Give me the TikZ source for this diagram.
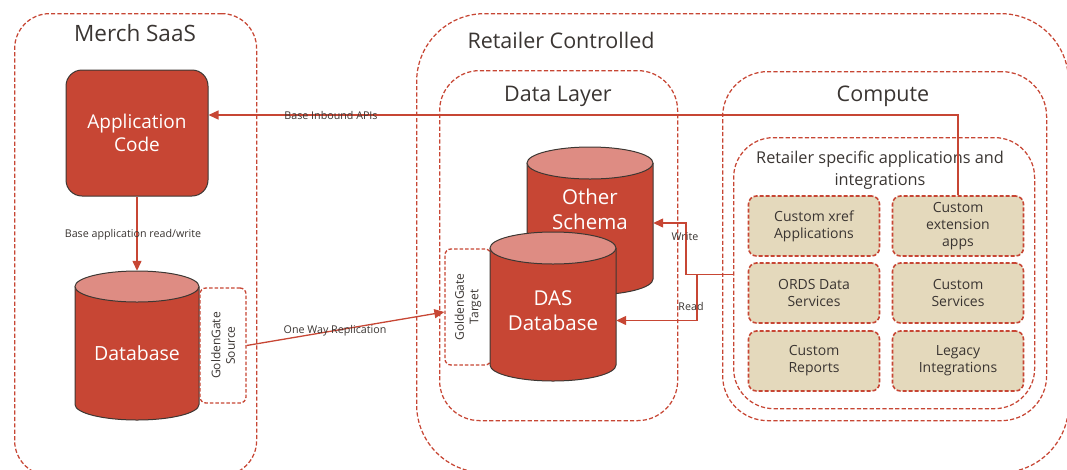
\documentclass[tikz,border=0pt]{standalone}
\usepackage{fontspec}
\setmainfont{Open Sans}
\usetikzlibrary{arrows.meta}
\definecolor{ored}{HTML}{C74634}
\definecolor{opink}{HTML}{DE8C83}
\definecolor{otan}{HTML}{E4D9BC}
\definecolor{otxt}{HTML}{3A3532}
\definecolor{oline}{HTML}{3D3733}
\newcommand{\mycyl}[5]{% x1 top x2 bottom ry
  \pgfmathsetmacro{\cx}{(#1+#3)/2}\pgfmathsetmacro{\rx}{(#3-#1)/2}
  \fill[ored] (#1,-#2-#5) -- (#1,-#4+#5) arc[start angle=180,end angle=360,x radius=\rx,y radius=#5] -- (#3,-#2-#5) -- cycle;
  \draw[oline,line width=1pt] (#1,-#2-#5) -- (#1,-#4+#5) arc[start angle=180,end angle=360,x radius=\rx,y radius=#5] -- (#3,-#2-#5);
  \draw[oline,line width=1pt,fill=opink] (\cx,-#2-#5) ellipse[x radius=\rx,y radius=#5];
}
\tikzset{
  grp/.style={draw=ored,dash pattern=on 4.2pt off 2.2pt,line width=1.25pt,inner sep=0pt,anchor=north west},
  tanbox/.style={draw=ored,fill=otan,dash pattern=on 4pt off 2pt,line width=1.6pt,rounded corners=8pt,minimum width=131pt,minimum height=60pt,inner sep=0pt,align=center,font=\fontsize{14}{17}\selectfont,text=otxt},
  ggbox/.style={draw=ored,fill=white,dash pattern=on 3.5pt off 2pt,line width=1.3pt,rounded corners=6pt,minimum width=46pt,inner sep=0pt},
  ggtext/.style={rotate=90,align=center,font=\fontsize{12}{14.5}\selectfont,text=otxt},
  title/.style={font=\fontsize{21.5}{25}\selectfont,text=otxt},
  lbl/.style={font=\fontsize{10.7}{12}\selectfont,text=otxt,inner sep=1pt},
  wtxt/.style={text=white,align=center},
  conn/.style={draw=ored,line width=1.3pt,-{Triangle[length=10pt,width=9pt]}},
  cylbox/.style={inner sep=0pt}
}
\begin{document}
\begin{tikzpicture}[x=1pt,y=1pt]
\useasboundingbox (0,0) rectangle (1067,-469);
% group boxes
\node[grp,rounded corners=35pt,minimum width=242pt,minimum height=462pt] (merch) at (14,-13) {};
\node[grp,rounded corners=68pt,minimum width=652pt,minimum height=459pt] (retail) at (416,-13) {};
\node[grp,rounded corners=40pt,minimum width=238pt,minimum height=350pt] (datal) at (439,-70) {};
\node[grp,rounded corners=45pt,minimum width=324pt,minimum height=349pt] (compute) at (722,-71) {};
\node[grp,rounded corners=40pt,minimum width=301pt,minimum height=271pt] (rs) at (733,-137) {};
% titles
\node[title,font=\fontsize{22.5}{25}\selectfont] (tmerch) at (135,-33) {Merch SaaS};
\node[title] (tretail) at (561,-40) {Retailer Controlled};
\node[title] (tdata) at (558,-96) {Data Layer};
\node[title] (tcomp) at (883,-96) {Compute};
\node[align=center,font=\fontsize{16.3}{22}\selectfont,text=otxt] (trs) at (880,-170) {Retailer specific applications and\\integrations};
% application code
\node[draw=oline,fill=ored,line width=1pt,rounded corners=16pt,minimum width=142pt,minimum height=126pt,wtxt,font=\fontsize{19}{23}\selectfont] (app) at (137,-133) {Application\\Code};
% database
\node[cylbox,minimum width=124pt,minimum height=149pt] (db) at (137,-345.5) {};
\mycyl{75}{271}{199}{420}{15.5}
\node[wtxt,font=\fontsize{19.5}{23}\selectfont] (dbt) at (137,-353) {Database};
\node[ggbox,minimum height=115pt] (ggs) at (223,-345.5) {};
\node[ggtext] (ggst) at (223,-345.5) {GoldenGate\\Source};
% data layer cylinders
\node[cylbox,minimum width=126pt,minimum height=148pt] (os) at (590,-221) {};
\mycyl{527}{147}{653}{295}{16}
\node[wtxt,font=\fontsize{20.5}{25}\selectfont] (ost) at (590,-209) {Other\\Schema};
\node[ggbox,minimum height=116pt] (ggt) at (468,-307) {};
\node[ggtext] (ggtt) at (468,-307) {GoldenGate\\Target};
\node[cylbox,minimum width=126pt,minimum height=149pt] (das) at (553,-306.5) {};
\mycyl{490}{232}{616}{381}{16}
\node[wtxt,font=\fontsize{20.5}{25}\selectfont] (dast) at (553,-311) {DAS\\Database};
% tan boxes
\node[tanbox] (xref) at (814,-226) {Custom xref\\Applications};
\node[tanbox] (ext) at (958,-226) {Custom\\extension\\apps};
\node[tanbox] (ords) at (814,-293) {ORDS Data\\Services};
\node[tanbox] (csvc) at (958,-293) {Custom\\Services};
\node[tanbox] (crep) at (814,-361) {Custom\\Reports};
\node[tanbox] (legacy) at (958,-361) {Legacy\\Integrations};
% connectors
\draw[conn] (app.south) -- (db.north);
\node[lbl] (l1) at (133,-235) {Base application read/write};
\draw[conn] (ggs.east) -- ([yshift=-5pt]ggt.west);
\node[lbl] (l2) at (335,-331) {One Way Replication};
\draw[conn] (ext.north) |- ([yshift=18pt]app.east);
\node[lbl] (l3) at (331,-115) {Base Inbound APIs};
\draw[conn] ([yshift=-1.5pt]rs.west) -- ++(-47,0) |- ([yshift=-2pt]os.east);
\draw[conn] ([xshift=-36pt,yshift=-1.5pt]rs.west) |- ([yshift=-14pt]das.east);
\node[lbl] (l4) at (685,-237) {Write};
\node[lbl] (l5) at (691,-306) {Read};
\end{tikzpicture}
\end{document}
